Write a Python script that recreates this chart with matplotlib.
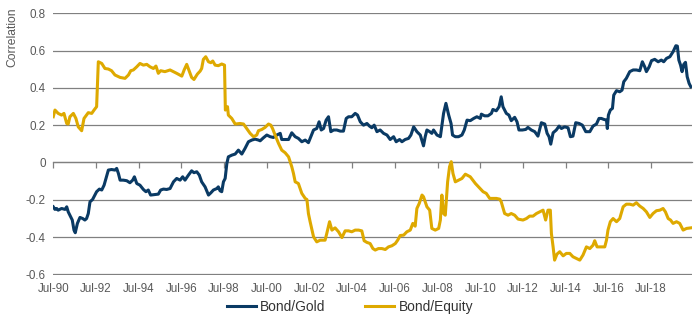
import matplotlib
matplotlib.use("Agg")
import matplotlib.pyplot as plt

plt.rcParams['font.family'] = ['Liberation Sans', 'DejaVu Sans']

# decimal years (Jul-90 = 1990.5) and rolling correlations
bond_gold_x = [1990.50, 1990.58, 1990.66, 1990.73, 1990.89, 1991.05, 1991.13, 1991.20, 1991.28, 1991.39,
               1991.47, 1991.53, 1991.63, 1991.75, 1991.88, 1991.98, 1992.06, 1992.14, 1992.22, 1992.34,
               1992.45, 1992.53, 1992.66, 1992.77, 1992.88, 1992.97, 1993.08, 1993.23, 1993.39, 1993.47,
               1993.55, 1993.63, 1993.78, 1993.94, 1994.09, 1994.22, 1994.30, 1994.41, 1994.56, 1994.72,
               1994.84, 1994.95, 1995.06, 1995.27, 1995.42, 1995.53, 1995.66, 1995.81, 1995.97, 1996.13,
               1996.28, 1996.44, 1996.56, 1996.67, 1996.83, 1996.98, 1997.09, 1997.22, 1997.34, 1997.45,
               1997.61, 1997.77, 1997.88, 1998.00, 1998.16, 1998.23, 1998.31, 1998.39, 1998.47, 1998.55,
               1998.63, 1998.70, 1998.86, 1999.02, 1999.17, 1999.33, 1999.48, 1999.64, 1999.80, 1999.95,
               2000.11, 2000.19, 2000.34, 2000.50, 2000.66, 2000.81, 2000.97, 2001.13, 2001.20, 2001.36,
               2001.52, 2001.67, 2001.83, 2001.98, 2002.14, 2002.30, 2002.45, 2002.53, 2002.69, 2002.84,
               2002.95, 2003.05, 2003.16, 2003.28, 2003.39, 2003.50, 2003.63, 2003.78, 2003.94, 2004.09,
               2004.22, 2004.33, 2004.48, 2004.64, 2004.75, 2004.88, 2005.03, 2005.19, 2005.31, 2005.42,
               2005.53, 2005.66, 2005.81, 2005.97, 2006.13, 2006.28, 2006.44, 2006.56, 2006.72, 2006.83,
               2006.98, 2007.14, 2007.25, 2007.38, 2007.53, 2007.69, 2007.84, 2007.92, 2008.00, 2008.13,
               2008.23, 2008.31, 2008.47, 2008.63, 2008.78, 2008.89, 2009.02, 2009.13, 2009.20, 2009.33,
               2009.48, 2009.64, 2009.75, 2009.88, 2010.03, 2010.19, 2010.34, 2010.50, 2010.55, 2010.70,
               2010.86, 2011.02, 2011.09, 2011.25, 2011.38, 2011.48, 2011.56, 2011.72, 2011.84, 2011.95,
               2012.11, 2012.22, 2012.31, 2012.47, 2012.63, 2012.73, 2012.89, 2013.05, 2013.20, 2013.36,
               2013.52, 2013.63, 2013.72, 2013.80, 2013.91, 2014.06, 2014.19, 2014.30, 2014.45, 2014.61,
               2014.72, 2014.84, 2014.97, 2015.13, 2015.28, 2015.44, 2015.63, 2015.78, 2015.94, 2016.06,
               2016.17, 2016.28, 2016.41, 2016.45, 2016.50, 2016.59, 2016.69, 2016.75, 2016.88, 2017.03,
               2017.14, 2017.22, 2017.34, 2017.50, 2017.66, 2017.81, 2017.97, 2018.09, 2018.20, 2018.28,
               2018.41, 2018.52, 2018.67, 2018.83, 2018.98, 2019.09, 2019.22, 2019.38, 2019.53, 2019.66,
               2019.73, 2019.80, 2019.88, 2019.95, 2020.03, 2020.11, 2020.19, 2020.28, 2020.36]
bond_gold_y = [-0.238, -0.252, -0.247, -0.256, -0.247, -0.252, -0.238, -0.265, -0.283, -0.309,
               -0.363, -0.377, -0.327, -0.295, -0.301, -0.309, -0.301, -0.274, -0.211, -0.199,
               -0.175, -0.157, -0.143, -0.148, -0.122, -0.086, -0.041, -0.038, -0.041, -0.032,
               -0.059, -0.095, -0.095, -0.098, -0.109, -0.095, -0.077, -0.113, -0.122, -0.145,
               -0.157, -0.148, -0.175, -0.172, -0.170, -0.148, -0.143, -0.145, -0.140, -0.104,
               -0.086, -0.095, -0.077, -0.095, -0.068, -0.045, -0.055, -0.050, -0.068, -0.104,
               -0.131, -0.175, -0.163, -0.148, -0.140, -0.131, -0.152, -0.157, -0.104, -0.086,
               -0.005, 0.030, 0.039, 0.045, 0.066, 0.045, 0.075, 0.111, 0.120, 0.125,
               0.120, 0.116, 0.132, 0.147, 0.138, 0.134, 0.147, 0.156, 0.123, 0.123,
               0.123, 0.159, 0.138, 0.129, 0.111, 0.120, 0.106, 0.129, 0.174, 0.182,
               0.218, 0.174, 0.182, 0.227, 0.245, 0.165, 0.174, 0.174, 0.168, 0.168,
               0.236, 0.245, 0.245, 0.263, 0.254, 0.218, 0.200, 0.209, 0.195, 0.186,
               0.200, 0.165, 0.174, 0.156, 0.147, 0.123, 0.138, 0.111, 0.123, 0.111,
               0.123, 0.129, 0.147, 0.191, 0.165, 0.147, 0.089, 0.138, 0.174, 0.165,
               0.156, 0.174, 0.147, 0.138, 0.263, 0.317, 0.254, 0.209, 0.147, 0.138,
               0.138, 0.147, 0.174, 0.227, 0.224, 0.236, 0.245, 0.236, 0.259, 0.250,
               0.250, 0.263, 0.284, 0.277, 0.299, 0.352, 0.299, 0.263, 0.254, 0.224,
               0.242, 0.218, 0.174, 0.174, 0.177, 0.188, 0.174, 0.165, 0.141, 0.213,
               0.206, 0.156, 0.138, 0.098, 0.159, 0.174, 0.195, 0.182, 0.191, 0.186,
               0.138, 0.141, 0.213, 0.209, 0.200, 0.165, 0.165, 0.195, 0.206, 0.236,
               0.236, 0.231, 0.227, 0.182, 0.254, 0.281, 0.290, 0.361, 0.385, 0.379,
               0.388, 0.433, 0.451, 0.487, 0.496, 0.496, 0.492, 0.540, 0.513, 0.487,
               0.513, 0.546, 0.553, 0.540, 0.549, 0.540, 0.558, 0.567, 0.594, 0.626,
               0.624, 0.549, 0.522, 0.487, 0.526, 0.537, 0.460, 0.424, 0.406]

bond_equity_x = [1990.50, 1990.58, 1990.73, 1990.89, 1991.00, 1991.13, 1991.20, 1991.28, 1991.44, 1991.56,
                 1991.67, 1991.83, 1991.94, 1992.14, 1992.30, 1992.41, 1992.53, 1992.61, 1992.77, 1992.92,
                 1993.08, 1993.23, 1993.39, 1993.63, 1993.86, 1994.02, 1994.13, 1994.25, 1994.41, 1994.56,
                 1994.72, 1994.88, 1995.03, 1995.19, 1995.31, 1995.42, 1995.53, 1995.73, 1995.97, 1996.13,
                 1996.28, 1996.52, 1996.63, 1996.75, 1996.88, 1996.98, 1997.09, 1997.25, 1997.38, 1997.45,
                 1997.53, 1997.64, 1997.77, 1997.88, 1997.97, 1998.08, 1998.23, 1998.39, 1998.52, 1998.56,
                 1998.66, 1998.70, 1998.86, 1999.02, 1999.25, 1999.41, 1999.56, 1999.72, 1999.88, 2000.03,
                 2000.11, 2000.27, 2000.42, 2000.58, 2000.69, 2000.77, 2000.89, 2001.05, 2001.20, 2001.36,
                 2001.52, 2001.67, 2001.75, 2001.83, 2001.98, 2002.14, 2002.30, 2002.38, 2002.45, 2002.53,
                 2002.69, 2002.84, 2003.00, 2003.23, 2003.31, 2003.44, 2003.55, 2003.70, 2003.86, 2004.02,
                 2004.17, 2004.33, 2004.48, 2004.64, 2004.80, 2004.95, 2005.06, 2005.19, 2005.34, 2005.47,
                 2005.58, 2005.73, 2005.89, 2006.05, 2006.20, 2006.36, 2006.52, 2006.63, 2006.75, 2006.91,
                 2007.06, 2007.22, 2007.34, 2007.45, 2007.53, 2007.64, 2007.77, 2007.84, 2008.00, 2008.13,
                 2008.23, 2008.39, 2008.55, 2008.63, 2008.70, 2008.78, 2008.86, 2008.97, 2009.06, 2009.14,
                 2009.22, 2009.33, 2009.48, 2009.64, 2009.80, 2010.03, 2010.27, 2010.42, 2010.63, 2010.78,
                 2010.94, 2011.09, 2011.25, 2011.41, 2011.48, 2011.64, 2011.80, 2011.95, 2012.11, 2012.27,
                 2012.50, 2012.66, 2012.81, 2012.97, 2013.13, 2013.28, 2013.44, 2013.56, 2013.67, 2013.78,
                 2013.83, 2013.91, 2013.98, 2014.09, 2014.22, 2014.38, 2014.53, 2014.69, 2014.84, 2015.00,
                 2015.16, 2015.31, 2015.47, 2015.63, 2015.78, 2015.86, 2015.97, 2016.17, 2016.33, 2016.41,
                 2016.48, 2016.59, 2016.72, 2016.88, 2017.03, 2017.19, 2017.34, 2017.50, 2017.66, 2017.81,
                 2017.97, 2018.13, 2018.28, 2018.44, 2018.59, 2018.75, 2018.91, 2019.06, 2019.17, 2019.30,
                 2019.41, 2019.53, 2019.69, 2019.84, 2020.00, 2020.16, 2020.36]
bond_equity_y = [0.245, 0.281, 0.263, 0.254, 0.263, 0.209, 0.206, 0.245, 0.263, 0.236,
                 0.191, 0.170, 0.236, 0.267, 0.263, 0.281, 0.299, 0.540, 0.531, 0.504,
                 0.501, 0.492, 0.469, 0.456, 0.451, 0.469, 0.492, 0.496, 0.513, 0.531,
                 0.522, 0.526, 0.513, 0.504, 0.517, 0.478, 0.492, 0.487, 0.496, 0.487,
                 0.478, 0.463, 0.496, 0.526, 0.487, 0.456, 0.445, 0.474, 0.490, 0.504,
                 0.553, 0.567, 0.540, 0.535, 0.544, 0.522, 0.519, 0.528, 0.522, 0.281,
                 0.299, 0.254, 0.236, 0.206, 0.209, 0.206, 0.182, 0.156, 0.138, 0.147,
                 0.170, 0.177, 0.188, 0.206, 0.200, 0.182, 0.147, 0.102, 0.066, 0.052,
                 0.030, -0.023, -0.059, -0.104, -0.113, -0.166, -0.193, -0.199, -0.274, -0.318,
                 -0.399, -0.426, -0.417, -0.417, -0.381, -0.318, -0.363, -0.351, -0.372, -0.403,
                 -0.367, -0.367, -0.372, -0.363, -0.363, -0.367, -0.420, -0.429, -0.435, -0.462,
                 -0.470, -0.462, -0.462, -0.467, -0.453, -0.447, -0.435, -0.417, -0.392, -0.390,
                 -0.372, -0.363, -0.327, -0.342, -0.247, -0.220, -0.175, -0.184, -0.238, -0.256,
                 -0.354, -0.363, -0.354, -0.309, -0.175, -0.274, -0.283, -0.104, -0.023, 0.004,
                 -0.059, -0.104, -0.095, -0.086, -0.063, -0.077, -0.113, -0.131, -0.157, -0.166,
                 -0.193, -0.193, -0.193, -0.197, -0.211, -0.274, -0.283, -0.274, -0.283, -0.304,
                 -0.309, -0.301, -0.288, -0.288, -0.274, -0.265, -0.256, -0.309, -0.256, -0.256,
                 -0.381, -0.453, -0.524, -0.492, -0.479, -0.501, -0.488, -0.488, -0.506, -0.515,
                 -0.524, -0.497, -0.453, -0.462, -0.444, -0.420, -0.453, -0.453, -0.453, -0.417,
                 -0.363, -0.318, -0.301, -0.318, -0.301, -0.238, -0.224, -0.224, -0.229, -0.216,
                 -0.234, -0.247, -0.265, -0.295, -0.274, -0.259, -0.256, -0.247, -0.265, -0.301,
                 -0.309, -0.327, -0.318, -0.327, -0.363, -0.354, -0.351]

tick_years = [1990.5 + 2 * i for i in range(15)]
tick_labels = ['Jul-%02d' % (int(y) % 100) for y in tick_years]
y_ticks = [0.8, 0.6, 0.4, 0.2, 0, -0.2, -0.4, -0.6]
y_labels = ['0.8', '0.6', '0.4', '0.2', '0', '-0.2', '-0.4', '-0.6']

navy = '#0A3A64'
gold = '#DEA900'
grey = '#808080'
text_col = '#595959'

fig = plt.figure(figsize=(7, 3.24), dpi=100)
ax = fig.add_axes([0.0761, 0.1517, 0.912, 0.8090])

ax.plot(bond_gold_x, bond_gold_y, color=navy, lw=2.2, label='Bond/Gold', zorder=3)
ax.plot(bond_equity_x, bond_equity_y, color=gold, lw=2.2, label='Bond/Equity', zorder=3)

ax.set_xlim(1990.5, 2020.4)
ax.set_ylim(-0.603, 0.803)

ax.set_yticks(y_ticks)
ax.set_yticklabels(y_labels)
ax.yaxis.grid(True, color=grey, lw=0.9)
ax.set_axisbelow(True)
ax.tick_params(axis='y', length=0, pad=5.5, labelsize=8.4, labelcolor=text_col)

ax.set_xticks(tick_years)
ax.set_xticklabels(tick_labels)
ax.tick_params(axis='x', length=0, pad=6, labelsize=8.4, labelcolor=text_col)

for s in ax.spines.values():
    s.set_visible(False)

# axis line through zero with small downward ticks
zero = ax.secondary_xaxis((0 + 0.603) / 1.406)
zero.set_xticks(tick_years)
zero.tick_params(axis='x', direction='out', length=4.5, width=0.9, color=grey, labelbottom=False)
zero.spines['bottom'].set_color(grey)
zero.spines['bottom'].set_linewidth(0.9)

fig.text(12 / 700, 1 - 37 / 324, 'Correlation', rotation=90, ha='center', va='center',
         fontsize=8.7, color=text_col)

fig.legend(loc='center', bbox_to_anchor=(0.5, 1 - 307 / 324), ncol=2, frameon=False,
           fontsize=9.9, handlelength=2.1, handletextpad=0.3, columnspacing=2.9,
           labelcolor='#333333')

fig.savefig('out.png', dpi=100)
